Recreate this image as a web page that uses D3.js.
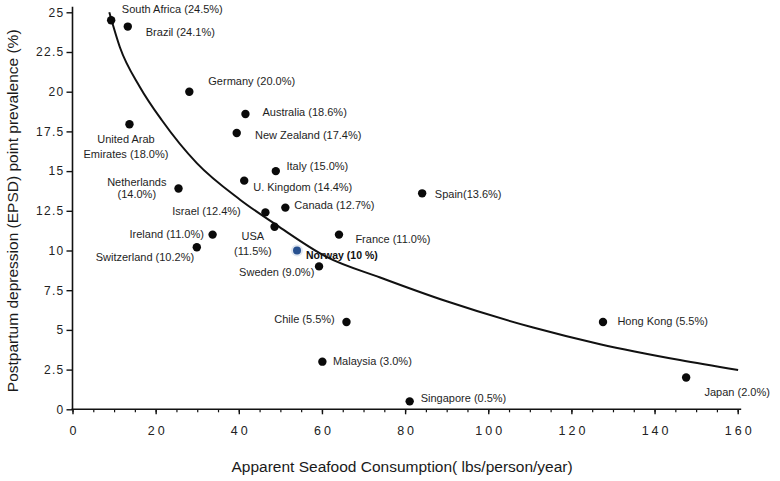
<!DOCTYPE html>
<html>
<head>
<meta charset="utf-8">
<script src="https://cdn.jsdelivr.net/npm/d3@7"></script>
<style>
  html, body { margin: 0; padding: 0; background: #fff; }
  svg { display: block; }
  .lbl { font-family: "Liberation Sans", Arial, sans-serif; font-size: 11px; fill: #1e1e1e; }
  .tick text { font-family: "Liberation Sans", Arial, sans-serif; fill: #222; }
</style>
</head>
<body>
<svg id="chart" width="780" height="481"></svg>
<script>
// ---- data ----
const countries = ["South Africa","Brazil","Germany","United Arab Emirates","Australia","New Zealand","Italy","U. Kingdom","Netherlands","Israel","Canada","USA","Ireland","Switzerland","Norway","Sweden","France","Spain","Chile","Malaysia","Singapore","Hong Kong","Japan"];
const seafood = [9.3,13.3,28.1,13.7,41.6,39.5,48.9,41.3,25.5,46.4,51.2,48.6,33.7,29.9,54.0,59.3,64.1,84.1,65.9,60.1,81.1,127.6,147.6];
const prevalence = [24.5,24.1,20.0,17.95,18.6,17.4,15.0,14.4,13.9,12.4,12.7,11.5,11.0,10.2,10.0,9.0,11.0,13.6,5.5,3.0,0.5,5.5,2.0];
const labels = ["South Africa (24.5%)","Brazil (24.1%)","Germany (20.0%)","United Arab\nEmirates (18.0%)","Australia (18.6%)","New Zealand (17.4%)","Italy (15.0%)","U. Kingdom (14.4%)","Netherlands\n(14.0%)","Israel (12.4%)","Canada (12.7%)","USA\n(11.5%)","Ireland (11.0%)","Switzerland (10.2%)","Norway (10 %)","Sweden (9.0%)","France (11.0%)","Spain(13.6%)","Chile (5.5%)","Malaysia (3.0%)","Singapore (0.5%)","Hong Kong (5.5%)","Japan (2.0%)"];
const highlight = "Norway";

// fitted trend curve
const curveX = [8.85,11.4,16.2,21.5,29.9,40.3,49.1,61.1,74.0,90.0,110.8,126.9,146.1,160.1];
const curveY = [25.0,22.8,20.3,18.2,15.5,13.2,11.6,9.6,8.3,6.8,5.15,4.1,3.1,2.47];

const xTicks = [0,20,40,60,80,100,120,140,160];
const xMinorTicks = d3.range(0,161,5);
const yTicks = [0,2.5,5,7.5,10,12.5,15,17.5,20,22.5,25];
const yTickLabels = ["0","2.5","5","7.5","10","12.5","15","17.5","20","22.5","25"];
const xTitle = "Apparent Seafood Consumption( lbs/person/year)";
const yTitle = "Postpartum depression (EPSD) point prevalence (%)";

// ---- layout (label offsets in px from the dot) ----
const labelLayout = {
  "South Africa": {dx:10.7, dy:-7.7, a:"start"},
  "Brazil": {dx:18, dy:9.3, a:"start"},
  "Germany": {dx:19, dy:-6.8, a:"start"},
  "United Arab Emirates": {dx:-3.5, dy:19, a:"middle", lh:14.6},
  "Australia": {dx:17, dy:1.7, a:"start"},
  "New Zealand": {dx:18.3, dy:6, a:"start"},
  "Italy": {dx:10.7, dy:-0.7, a:"start"},
  "U. Kingdom": {dx:9, dy:10, a:"start"},
  "Netherlands": {dx:-41.7, dy:-2.7, a:"middle", lh:12.6},
  "Israel": {dx:-24.6, dy:3, a:"end"},
  "Canada": {dx:9, dy:1, a:"start"},
  "USA": {dx:-21.7, dy:13, a:"middle", lh:15},
  "Ireland": {dx:-8.7, dy:3.7, a:"end"},
  "Switzerland": {dx:-2.7, dy:14, a:"end"},
  "Norway": {dx:9, dy:8, a:"start"},
  "Sweden": {dx:-4.7, dy:9.7, a:"end"},
  "France": {dx:16.4, dy:8.3, a:"start"},
  "Spain": {dx:12.7, dy:5, a:"start"},
  "Chile": {dx:-11.7, dy:0.6, a:"end"},
  "Malaysia": {dx:10.6, dy:3.7, a:"start"},
  "Singapore": {dx:11, dy:0.2, a:"start"},
  "Hong Kong": {dx:14.4, dy:3, a:"start"},
  "Japan": {dx:18.3, dy:18, a:"start"}
};

const svg = d3.select("#chart");
const x = d3.scaleLinear().domain([0,160]).range([72.5,737.7]);
const y = d3.scaleLinear().domain([0,25]).range([409.3,12.3]);

// x axis
const gx = svg.append("g").attr("transform", `translate(0,${y(0)})`);
gx.call(d3.axisBottom(x).tickValues(xMinorTicks).tickSize(3).tickFormat(""))
  .call(g => g.select(".domain").remove())
  .selectAll("line").attr("stroke", "#111").attr("stroke-width", 1.2);
const gx2 = svg.append("g").attr("transform", `translate(0,${y(0)})`);
gx2.call(d3.axisBottom(x).tickValues(xTicks).tickSize(5).tickPadding(12).tickFormat(d3.format("d")))
  .call(g => g.select(".domain").remove());
gx2.selectAll("line").attr("stroke", "#111").attr("stroke-width", 1.4);
gx2.selectAll("text").style("font-size", "12.5px").style("letter-spacing", "3px").attr("dx", "1.5px");
svg.append("line").attr("x1", x(0) - 1).attr("x2", x(160) + 3.5)
  .attr("y1", y(0)).attr("y2", y(0)).attr("stroke", "#111").attr("stroke-width", 1.6);

// y axis
const gy = svg.append("g").attr("transform", `translate(${x(0)},0)`);
gy.call(d3.axisLeft(y).tickValues(yTicks).tickSize(6).tickPadding(2)
    .tickFormat((d,i) => yTickLabels[i]))
  .call(g => g.select(".domain").remove());
gy.selectAll("line").attr("stroke", "#111").attr("stroke-width", 1.4);
gy.selectAll("text").style("font-size", "12px").style("letter-spacing", "1.3px");
svg.append("line").attr("x1", x(0)).attr("x2", x(0))
  .attr("y1", y(0) + 0.5).attr("y2", y(25) - 5.5).attr("stroke", "#111").attr("stroke-width", 1.6);

// titles
svg.append("text").attr("x", (x(0)+x(160))/2 - 3).attr("y", 472)
  .attr("text-anchor", "middle")
  .style("font-family", "'Liberation Sans', Arial, sans-serif").style("font-size", "15.5px").style("fill", "#1a1a1a")
  .text(xTitle);
svg.append("text").attr("transform", `translate(18,${(y(0)+y(25))/2}) rotate(-90)`)
  .attr("text-anchor", "middle")
  .style("font-family", "'Liberation Sans', Arial, sans-serif").style("font-size", "15.5px").style("fill", "#1a1a1a")
  .text(yTitle);

// trend curve
const curvePts = curveX.map((v,i) => [v, curveY[i]]);
svg.append("path").datum(curvePts)
  .attr("fill", "none").attr("stroke", "#111").attr("stroke-width", 2)
  .attr("d", d3.line().x(d => x(d[0])).y(d => y(d[1])).curve(d3.curveMonotoneX));

// points
const pts = countries.map((c,i) => ({c, xv: seafood[i], yv: prevalence[i], label: labels[i]}));
svg.append("g").selectAll("circle").data(pts).join("circle")
  .attr("cx", d => x(d.xv)).attr("cy", d => y(d.yv))
  .attr("r", d => d.c === highlight ? 5 : 4.2)
  .attr("fill", d => d.c === highlight ? "#27508f" : "#0a0a0a")
  .attr("stroke", d => d.c === highlight ? "#dfe6f0" : "none")
  .attr("stroke-width", d => d.c === highlight ? 2 : 0);

// labels
const lg = svg.append("g");
pts.forEach(d => {
  const L = labelLayout[d.c];
  const t = lg.append("text").attr("class", "lbl")
    .attr("text-anchor", L.a)
    .attr("x", x(d.xv) + L.dx).attr("y", y(d.yv) + L.dy);
  if (d.c === highlight) t.style("font-weight", "bold").style("fill", "#111").style("font-size", "10.5px");
  const lines = d.label.split("\n");
  lines.forEach((ln, k) => {
    t.append("tspan").attr("x", x(d.xv) + L.dx).attr("dy", k === 0 ? 0 : (L.lh || 14)).text(ln);
  });
});
</script>
</body>
</html>
